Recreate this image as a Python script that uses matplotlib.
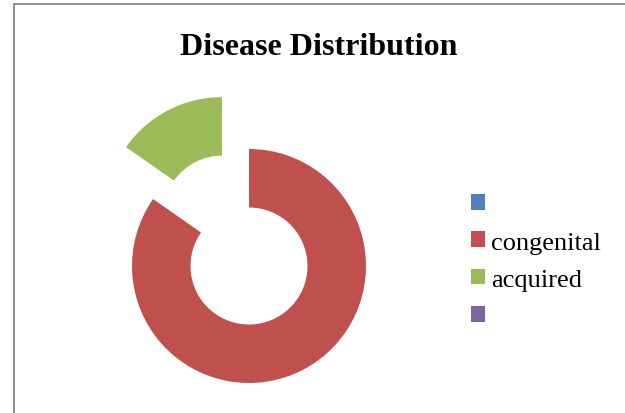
import matplotlib
matplotlib.use('Agg')
import matplotlib.pyplot as plt
import matplotlib.patches as patches

# ── Data ───────────────────────────────────────────────────────
categories = ['', 'congenital', 'acquired', '']
values = [0, 84.7, 15.3, 0]
colors = ['#4F81BD', '#C0504D', '#9BBB59', '#8064A2']
explode = [0, 0, 0.5, 0]
title = 'Disease Distribution'

W, H = 625, 414
fig = plt.figure(figsize=(W / 100, H / 100), dpi=100)
fig.patch.set_facecolor('white')

# pie axes: centre (249, 267) px from top-left, outer radius 117 px
R = 117.0
cx, cy = 249.0, H - 267.0
L = 200.0
ax = fig.add_axes([(cx - L) / W, (cy - L) / H, 2 * L / W, 2 * L / H])
ax.axis('off')

wedges, _ = ax.pie(values, colors=colors, explode=explode, startangle=90,
                   counterclock=False, radius=1.0,
                   wedgeprops=dict(width=0.5, linewidth=0))
ax.set_xlim(-L / R, L / R)
ax.set_ylim(-L / R, L / R)
ax.set_aspect('equal')

# title
fig.text(319 / W, (H - 55) / H, title, ha='center', va='baseline',
         fontsize=23, fontweight='bold', family='Liberation Serif')

# legend
leg = fig.legend(wedges, categories, loc='upper left',
                 bbox_to_anchor=(471 / W, (H - 195) / H),
                 bbox_transform=fig.transFigure, frameon=False,
                 prop={'family': 'Liberation Serif', 'size': 19},
                 handlelength=0.53, handleheight=0.53, handletextpad=0.22,
                 labelspacing=0.58, borderpad=0, borderaxespad=0)

# chart-area frame (left and top edges visible)
frame = patches.Rectangle((13.5 / W, -0.1), 1.2, (H - 4.5) / H + 0.1,
                          transform=fig.transFigure, fill=False,
                          edgecolor='#868686', linewidth=1.3)
fig.patches.append(frame)

fig.savefig('out.png', dpi=100, facecolor='white')
